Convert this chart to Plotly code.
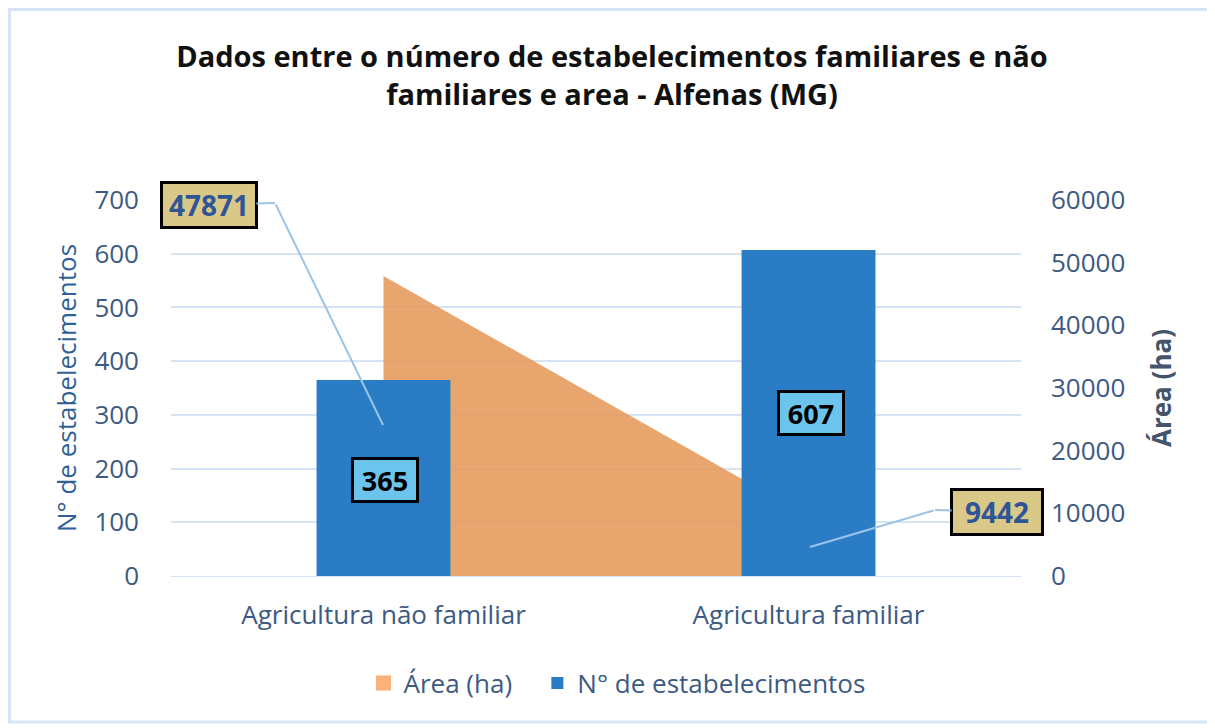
import plotly.graph_objects as go

categories = ["Agricultura não familiar", "Agricultura familiar"]
area_ha = [47871, 9442]
n_estab = [365, 607]

FONT = "Open Sans"
TICK_COLOR = "#3C5A82"
AREA_FILL = "rgba(229,155,94,0.9)"
BAR_COLOR = "#2A7DC5"

# plot area in screen pixels; the page adds an 8px body margin
PL, PR, PT, PB = 171, 1021, 200, 576
OFFX, OFFY = 8, 8
PW, PH = PR - PL, PB - PT
CAT_W = PW / 2


def py2area(py):
    return (PB - py) / PH * 60000


def cat_px(i):
    return PL + CAT_W * (i + 0.5)


fig = go.Figure()

fig.add_trace(go.Scatter(
    x=categories, y=area_ha, name="Área (ha)", mode="lines",
    fill="tozeroy", fillcolor=AREA_FILL, line=dict(width=0, color=AREA_FILL),
    yaxis="y", hoverinfo="skip", showlegend=False,
))
fig.add_trace(go.Scatter(
    x=[None], y=[None], name="Área (ha)&nbsp;&nbsp;&nbsp;", mode="markers",
    marker=dict(symbol="square", size=15, color="#F9B27A"), yaxis="y",
))
fig.add_trace(go.Bar(
    x=categories, y=n_estab, name="N° de estabelecimentos",
    marker=dict(color=BAR_COLOR, line=dict(width=0)), width=0.315,
    yaxis="y2",
))

fig.update_layout(
    width=1215, height=728,
    margin=dict(l=PL - OFFX, r=1215 - (PR - OFFX), t=PT - OFFY, b=728 - (PB - OFFY)),
    paper_bgcolor="white", plot_bgcolor="white",
    font=dict(family=FONT, color=TICK_COLOR),
    title=dict(
        text="<b>Dados entre o número de estabelecimentos familiares e não<br>familiares e area - Alfenas (MG)</b>",
        x=(612 - OFFX) / 1215, xanchor="center", y=1 - 59 / 728, yanchor="middle",
        font=dict(family=FONT, size=29, color="#111111"),
    ),
    xaxis=dict(
        range=[-0.5, 1.5],
        showgrid=False, showline=True, linecolor="#D6E3F3", linewidth=1,
        tickfont=dict(size=26, color=TICK_COLOR), ticks="",
        ticklabelstandoff=16,
    ),
    yaxis=dict(
        side="right", range=[0, 60000], dtick=10000, tickformat="d", showgrid=False,
        zeroline=False, tickfont=dict(size=26, color=TICK_COLOR),
        ticklabelstandoff=29,
        title=dict(text="<b>Área (ha)</b>", font=dict(size=26, color="#44546A"), standoff=28),
    ),
    yaxis2=dict(
        overlaying="y", side="left", range=[0, 700], dtick=100,
        showgrid=True, gridcolor="#D6E3F3", gridwidth=2, zeroline=False,
        tickfont=dict(size=26, color=TICK_COLOR), ticklabelstandoff=31,
        title=dict(text="N° de estabelecimentos", font=dict(size=26, color="#2F5F96"), standoff=10),
    ),
    legend=dict(
        orientation="h", x=(617 - PL) / PW, xanchor="center",
        y=(PB - 683) / PH, yanchor="middle",
        font=dict(size=26, color=TICK_COLOR), itemwidth=30,
        traceorder="normal",
    ),
    showlegend=True,
)

# outer chart border
fig.add_shape(
    type="rect", xref="paper", yref="paper",
    x0=(9.5 - PL) / PW, x1=(1210 - PL) / PW,
    y0=(PB - 722) / PH, y1=(PB - 9.5) / PH,
    line=dict(color="#D6E4F5", width=3), fillcolor="rgba(0,0,0,0)", layer="below",
)

LEADER = dict(showarrow=True, arrowhead=0, arrowwidth=2, arrowcolor="#9DC3E6")
AREA_LABEL = dict(font=dict(size=28, color="#2F5597", family=FONT),
                  bgcolor="#D9C887", bordercolor="black", borderwidth=3,
                  width=90, height=40)

# label for area value 1: diagonal leader + elbow + box
fig.add_annotation(x=categories[0], y=py2area(425), xref="x", yref="y", text="",
                   ax=275 - 383, ay=203 - 425, xshift=383 - cat_px(0), **LEADER)
fig.add_annotation(x=categories[0], y=py2area(203), xref="x", yref="y",
                   text="<b>%d</b>" % area_ha[0], ax=-66, ay=2, xshift=275 - cat_px(0),
                   **LEADER, **AREA_LABEL)

# label for area value 2
fig.add_annotation(x=categories[1], y=py2area(547), xref="x", yref="y", text="",
                   ax=935 - 810, ay=510 - 547, xshift=810 - cat_px(1), **LEADER)
fig.add_annotation(x=categories[1], y=py2area(510), xref="x", yref="y",
                   text="<b>%d</b>" % area_ha[1], ax=62, ay=2, xshift=935 - cat_px(1),
                   **LEADER, **{**AREA_LABEL, "width": 86})

# bar labels
BAR_LABEL = dict(showarrow=False, font=dict(size=27, color="black", family=FONT),
                 bgcolor="#6CC3EC", bordercolor="black", borderwidth=3, width=60, height=38)
fig.add_annotation(x=categories[0], y=(PB - 480) / PH * 700, xref="x", yref="y2",
                   text="<b>%d</b>" % n_estab[0], xshift=385 - cat_px(0), **BAR_LABEL)
fig.add_annotation(x=categories[1], y=(PB - 413) / PH * 700, xref="x", yref="y2",
                   text="<b>%d</b>" % n_estab[1], xshift=811 - cat_px(1), **BAR_LABEL)

fig.write_html("out.html")
